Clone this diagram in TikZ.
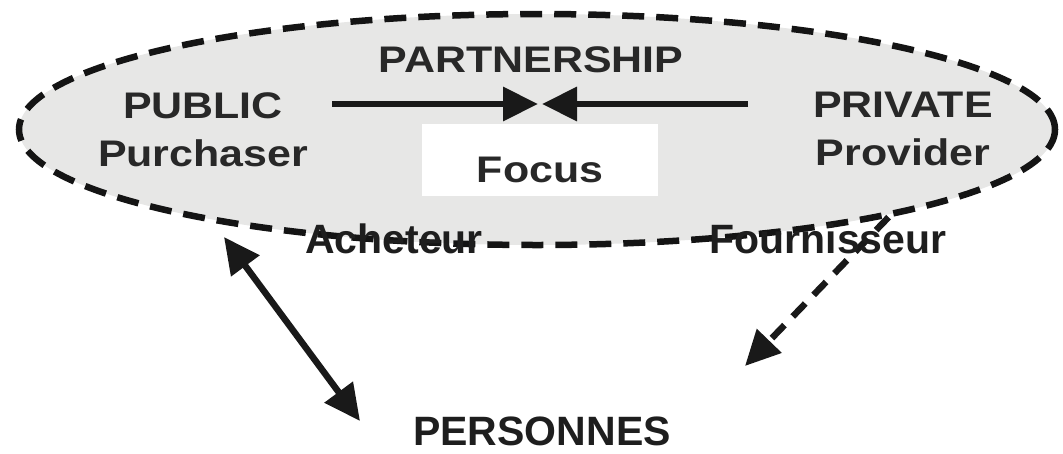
\documentclass[tikz,border=0pt]{standalone}
\usepackage{fontspec}
\setmainfont{Liberation Sans}
\newfontfamily\widefont[FakeStretch=1.16]{Liberation Sans}
\usetikzlibrary{arrows.meta,shapes.geometric}
\definecolor{ellfill}{RGB}{231,231,230}
\definecolor{intext}{RGB}{40,40,40}
\definecolor{outtext}{RGB}{30,30,30}
\begin{document}
\begin{tikzpicture}[x=1pt,y=-1pt,
  ellbox/.style={ellipse, minimum width=1036pt, minimum height=231pt, inner sep=0pt,
    fill=ellfill, draw=black!92, line width=6.5pt, dash pattern=on 22pt off 12pt},
  intxt/.style={font=\widefont\bfseries\fontsize{37}{48}\selectfont, text=intext, inner sep=0pt},
  outtxt/.style={font=\bfseries\fontsize{41}{48}\selectfont, text=outtext, inner sep=0pt},
  thick6/.style={line width=6.5pt, draw=black!90},
  tri/.style={-{Triangle[length=35pt,width=33pt]}},
  dtri/.style={{Triangle[length=36pt,width=34pt]}-{Triangle[length=36pt,width=34pt]}}]
\useasboundingbox (0,0) rectangle (1063,453);
\node[ellbox] (ell) at (537,129.5) {};
\node[intxt] (partner) at (531,60) {PARTNERSHIP};
\node[intxt, align=center, anchor=north] (public) at (203,92) {PUBLIC\\Purchaser};
\node[intxt, align=center, anchor=north] (private) at (903,92) {PRIVATE\\Provider};
\node[intxt, fill=white, minimum width=236pt, text height=58pt, text depth=14pt] (focus) at (540,160) {Focus};
\coordinate (lA) at (332,104);
\coordinate (mid) at (540,104);
\coordinate (rA) at (748,104);
\draw[thick6, tri] (lA) -- ([xshift=-2pt]mid);
\draw[thick6, tri] (rA) -- ([xshift=2pt]mid);
\coordinate (a1) at (224,237);
\coordinate (a2) at (360,421);
\draw[thick6, dtri] (a1) -- (a2);
\coordinate (b1) at (ell.-14.6);
\coordinate (b2) at (745,366);
\draw[thick6, tri, dash pattern=on 18pt off 12pt] (b1) -- (b2);
\node[outtxt, anchor=base] (acheteur) at (394,253) {Acheteur};
\node[outtxt, anchor=base] (fourn) at (828,253) {Fournisseur};
\node[outtxt, anchor=base] (personnes) at (542,445) {PERSONNES};
\end{tikzpicture}
\end{document}
